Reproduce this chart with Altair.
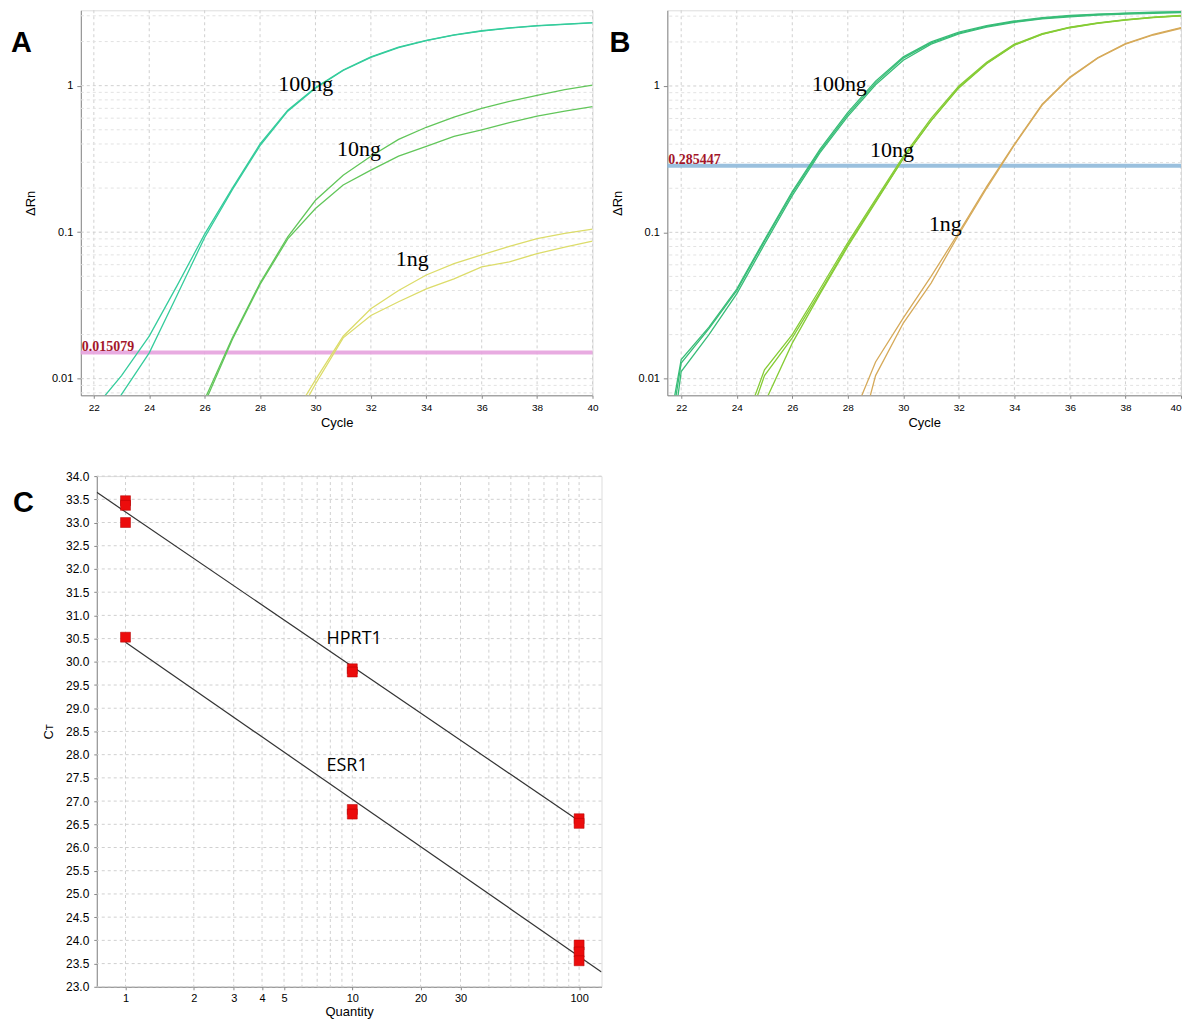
import altair as alt
import pandas as pd

# ---------------- data ----------------
cycles = list(range(21, 41))
N = None

# Panel A amplification curves (ΔRn per cycle, cycles 21..40)
A_100a = [N, 0.0062, 0.0105, 0.0195, 0.043, 0.097, 0.20, 0.40, 0.68, 0.97, 1.28, 1.57, 1.83, 2.04, 2.22, 2.37, 2.48, 2.57, 2.63, 2.69]
A_100b = [N, 0.0042, 0.0078, 0.0150, 0.037, 0.092, 0.195, 0.39, 0.67, 0.96, 1.27, 1.56, 1.82, 2.03, 2.21, 2.36, 2.47, 2.56, 2.62, 2.68]
A_10a = [N, N, N, N, 0.0028, 0.0072, 0.019, 0.045, 0.093, 0.165, 0.245, 0.33, 0.43, 0.52, 0.61, 0.70, 0.78, 0.86, 0.94, 1.01]
A_10b = [N, N, N, N, 0.0026, 0.0068, 0.0185, 0.044, 0.090, 0.145, 0.21, 0.265, 0.33, 0.385, 0.45, 0.50, 0.56, 0.62, 0.67, 0.72]
A_1a = [N, N, N, N, N, N, N, 0.0022, 0.0048, 0.0098, 0.0195, 0.030, 0.040, 0.051, 0.061, 0.070, 0.080, 0.0905, 0.098, 0.105]
A_1b = [N, N, N, N, N, N, N, 0.0020, 0.0042, 0.0092, 0.019, 0.027, 0.0335, 0.041, 0.048, 0.058, 0.0627, 0.0715, 0.079, 0.087]

# Panel B amplification curves
B_100a = [0.0008, 0.0128, 0.022, 0.040, 0.087, 0.185, 0.36, 0.64, 1.05, 1.55, 1.97, 2.30, 2.55, 2.75, 2.90, 3.00, 3.08, 3.13, 3.17, 3.20]
B_100b = [0.0004, 0.0112, 0.020, 0.038, 0.083, 0.178, 0.35, 0.62, 1.02, 1.50, 1.93, 2.27, 2.52, 2.72, 2.87, 2.97, 3.05, 3.10, 3.14, 3.17]
B_100c = [0.0012, 0.0135, 0.0225, 0.041, 0.089, 0.190, 0.37, 0.66, 1.08, 1.58, 2.00, 2.33, 2.58, 2.78, 2.93, 3.03, 3.10, 3.15, 3.19, 3.22]
B_10a = [N, N, N, 0.0035, 0.0115, 0.020, 0.041, 0.085, 0.168, 0.33, 0.60, 1.00, 1.45, 1.93, 2.28, 2.52, 2.70, 2.84, 2.95, 3.03]
B_10b = [N, N, N, 0.0030, 0.0105, 0.019, 0.039, 0.082, 0.163, 0.32, 0.58, 0.97, 1.42, 1.90, 2.25, 2.50, 2.68, 2.82, 2.93, 3.01]
B_10c = [N, N, N, 0.0012, 0.0068, 0.0175, 0.038, 0.080, 0.160, 0.32, 0.58, 0.98, 1.43, 1.91, 2.26, 2.51, 2.69, 2.83, 2.94, 3.02]
B_1a = [N, N, N, N, N, N, 0.0015, 0.0045, 0.013, 0.026, 0.050, 0.100, 0.205, 0.40, 0.75, 1.15, 1.56, 1.95, 2.25, 2.50]
B_1b = [N, N, N, N, N, N, 0.0010, 0.0020, 0.0105, 0.024, 0.045, 0.097, 0.200, 0.395, 0.74, 1.14, 1.55, 1.93, 2.23, 2.48]

A_colors = {"100ng": "#35cc9c", "10ng": "#62c65a", "1ng": "#dcdc6a"}
B_colors = {"100ng": "#38bd78", "10ng": "#86cc36", "1ng": "#d6aa5a"}

A_threshold = [0.015079]
A_threshold_text = ["0.015079"]
B_threshold = [0.285447]
B_threshold_text = ["0.285447"]

A_label_text = ["100ng", "10ng", "1ng"]
A_label_cycle = [28.66, 30.78, 32.9]
A_label_value = [0.92, 0.329, 0.0587]
B_label_text = ["100ng", "10ng", "1ng"]
B_label_cycle = [26.71, 28.8, 30.92]
B_label_value = [0.92, 0.329, 0.1016]

cycle_ticks = [22, 24, 26, 28, 30, 32, 34, 36, 38, 40]
rn_ticks = [0.01, 0.1, 1]
rn_minor = [0.008, 0.009, 0.02, 0.03, 0.04, 0.05, 0.06, 0.07, 0.08, 0.09,
            0.2, 0.3, 0.4, 0.5, 0.6, 0.7, 0.8, 0.9, 2, 3]

# Panel C standard curves
C_gene = ["HPRT1", "HPRT1", "HPRT1", "HPRT1", "HPRT1", "HPRT1", "HPRT1",
          "ESR1", "ESR1", "ESR1", "ESR1", "ESR1", "ESR1"]
C_qty = [1, 1, 1, 10, 10, 100, 100,
         1, 10, 10, 100, 100, 100]
C_ct = [33.47, 33.37, 33.0, 29.85, 29.78, 26.62, 26.52,
        30.53, 26.82, 26.72, 23.9, 23.75, 23.56]
C_fit_gene = ["HPRT1", "HPRT1", "ESR1", "ESR1"]
C_fit_qty = [0.747, 100, 1, 125.5]
C_fit_ct = [33.65, 26.57, 30.42, 23.32]
C_label_text = ["HPRT1", "ESR1"]
C_label_qty = [7.7, 7.7]
C_label_ct = [30.5, 27.75]
qty_ticks = [1, 2, 3, 4, 5, 10, 20, 30, 100]
qty_grid = [1, 2, 3, 4, 5, 6, 7, 8, 9, 10, 20, 30, 40, 50, 60, 70, 80, 90, 100]
ct_ticks = [23.0 + 0.5 * i for i in range(23)]

# ---------------- helpers ----------------
GRID = "#d0d0d0"
AXFONT = "Liberation Sans"


def curves_df(named, colors):
    rows = []
    for cid, grp, vals in named:
        for c, v in zip(cycles, vals):
            if v is not None:
                rows.append({"cycle": c, "value": v, "curve": cid, "col": colors[grp]})
    return pd.DataFrame(rows)


def amp_panel(named, colors, thr, thr_text, thr_color, lab_t, lab_c, lab_v,
              letter, letter_x, xdom, ydom, width, height, flush):
    xscale = alt.Scale(domain=xdom, nice=False, zero=False)
    yscale = alt.Scale(type="log", domain=ydom, nice=False)
    xaxis = alt.Axis(values=cycle_ticks, title="Cycle", grid=False, labelFlush=flush,
                     labelFontSize=10, labelPadding=4, titlePadding=4, tickSize=3,
                     titleFontWeight="normal", titleFontSize=13)
    yaxis = alt.Axis(values=rn_ticks, title="ΔRn", grid=False, labelFlush=False,
                     labelFontSize=11, labelPadding=4, titlePadding=14, tickSize=4,
                     titleFontWeight="normal", titleFontSize=13,
                     labelExpr="datum.value == 1 ? '1' : datum.value == 0.1 ? '0.1' : '0.01'")
    X = alt.X("cycle:Q", scale=xscale, axis=xaxis)
    Y = alt.Y("value:Q", scale=yscale, axis=yaxis)

    gx = alt.Chart(pd.DataFrame({"cycle": cycle_ticks})).mark_rule(
        color=GRID, strokeDash=[3, 3], strokeWidth=1).encode(x=X)
    gy_major = alt.Chart(pd.DataFrame({"value": rn_ticks})).mark_rule(
        color=GRID, strokeDash=[3, 3], strokeWidth=1).encode(y=Y)
    gy_minor = alt.Chart(pd.DataFrame({"value": rn_minor})).mark_rule(
        color="#e2e2e2", strokeDash=[3, 3], strokeWidth=1).encode(y=Y)
    thr_df = pd.DataFrame({"value": thr, "t": thr_text})
    thr_rule = alt.Chart(thr_df).mark_rule(color=thr_color, strokeWidth=4, opacity=0.9).encode(y=Y)
    thr_lab = alt.Chart(thr_df).mark_text(
        align="left", baseline="alphabetic", dy=-2, font="Liberation Serif",
        fontWeight="bold", fontSize=14, color="#a3162a").encode(
        x=alt.value(1), y=Y, text="t:N")
    lines = alt.Chart(curves_df(named, colors)).mark_line(strokeWidth=1.3, clip=True).encode(
        x=X, y=Y, color=alt.Color("col:N", scale=None), detail="curve:N")
    lab = alt.Chart(pd.DataFrame({"cycle": lab_c, "value": lab_v, "t": lab_t})).mark_text(
        align="left", baseline="alphabetic", font="Liberation Serif", fontSize=22,
        color="#000").encode(x=X, y=Y, text="t:N")
    let = alt.Chart(pd.DataFrame({"t": [letter]})).mark_text(
        align="left", baseline="alphabetic", font=AXFONT, fontWeight="bold",
        fontSize=29, color="#000").encode(x=alt.value(letter_x), y=alt.value(42), text="t:N")
    return alt.layer(gx, gy_minor, gy_major, thr_rule, lines, thr_lab, lab, let).properties(
        width=width, height=height)


panelA = amp_panel(
    [("a100a", "100ng", A_100a), ("a100b", "100ng", A_100b),
     ("a10a", "10ng", A_10a), ("a10b", "10ng", A_10b),
     ("a1a", "1ng", A_1a), ("a1b", "1ng", A_1b)],
    A_colors, A_threshold, A_threshold_text, "#e6a2de",
    A_label_text, A_label_cycle, A_label_value, "A", -70,
    [21.53, 40], [0.0077, 3.27], 513, 386, False)

panelB = amp_panel(
    [("b100a", "100ng", B_100a), ("b100b", "100ng", B_100b), ("b100c", "100ng", B_100c),
     ("b10a", "10ng", B_10a), ("b10b", "10ng", B_10b), ("b10c", "10ng", B_10c),
     ("b1a", "1ng", B_1a), ("b1b", "1ng", B_1b)],
    B_colors, B_threshold, B_threshold_text, "#8fb9da",
    B_label_text, B_label_cycle, B_label_value, "B", -58,
    [21.5, 40], [0.0077, 3.29], 515, 386, True)

# Panel C
cx = alt.X("q:Q", scale=alt.Scale(type="log", domain=[0.747, 125.5], nice=False),
           axis=alt.Axis(values=qty_ticks, title="Quantity", format="d", grid=False,
                         labelFlush=False, labelOverlap=False, labelFontSize=11,
                         labelPadding=3, titlePadding=2, tickSize=3,
                         titleFontWeight="normal", titleFontSize=13))
cy = alt.Y("ct:Q", scale=alt.Scale(domain=[23, 34], nice=False, zero=False),
           axis=alt.Axis(values=ct_ticks, title="Cт", format=".1f", grid=False,
                         labelFlush=False, labelOverlap=False, labelFontSize=12,
                         labelPadding=5, titlePadding=10, tickSize=3,
                         titleFontWeight="normal", titleFontSize=13))
c_gx = alt.Chart(pd.DataFrame({"q": qty_grid})).mark_rule(
    color=GRID, strokeDash=[3, 3], strokeWidth=1).encode(x=cx)
c_gy = alt.Chart(pd.DataFrame({"ct": ct_ticks})).mark_rule(
    color=GRID, strokeDash=[3, 3], strokeWidth=1).encode(y=cy)
c_fit = alt.Chart(pd.DataFrame({"q": C_fit_qty, "ct": C_fit_ct, "gene": C_fit_gene})).mark_line(
    color="#333333", strokeWidth=1.2, clip=True).encode(x=cx, y=cy, detail="gene:N")
c_pts = alt.Chart(pd.DataFrame({"q": C_qty, "ct": C_ct, "gene": C_gene})).mark_square(
    size=100, filled=True, color="#ec0c0c", stroke="#b00000", strokeWidth=0.5, opacity=1).encode(
    x=cx, y=cy)
c_lab = alt.Chart(pd.DataFrame({"q": C_label_qty, "ct": C_label_ct, "t": C_label_text})).mark_text(
    align="left", baseline="middle", font="Open Sans", fontSize=18, color="#000").encode(
    x=cx, y=cy, text="t:N")
c_let = alt.Chart(pd.DataFrame({"t": ["C"]})).mark_text(
    align="left", baseline="alphabetic", font=AXFONT, fontWeight="bold",
    fontSize=29, color="#000").encode(x=alt.value(-84), y=alt.value(36), text="t:N")
panelC = alt.layer(c_gx, c_gy, c_fit, c_pts, c_lab, c_let).properties(width=506, height=512)

spacer = alt.Chart(pd.DataFrame({"t": [""]})).mark_text(opacity=0).encode(
    x=alt.value(0), y=alt.value(0), text="t:N").properties(
    width=16, height=10, view=alt.ViewBackground(stroke="transparent"))

row1 = alt.hconcat(panelA, panelB, spacing=9)
row2 = alt.hconcat(spacer, panelC, spacing=0, bounds="flush")
chart = alt.vconcat(row1, row2, spacing=39).properties(
    padding={"left": 2, "top": 0, "right": 0, "bottom": 0}
).configure_view(stroke="#9a9a9a", strokeWidth=1).configure_axis(
    labelFont=AXFONT, titleFont=AXFONT, labelColor="#333", titleColor="#333",
    titleFontWeight="normal", titleFontSize=13, tickColor="#888", domain=False
).configure(background="white")

chart.save("out.html", embed_options={"renderer": "svg", "actions": False})
